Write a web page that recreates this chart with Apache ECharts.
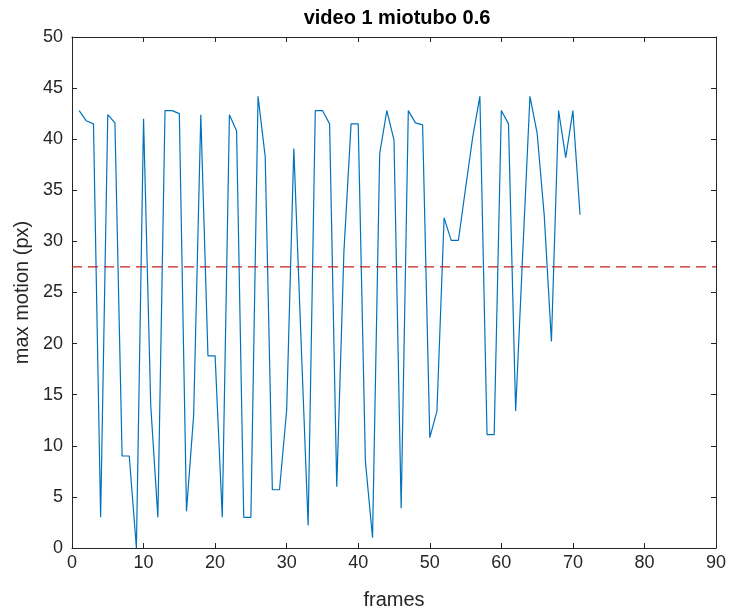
<!DOCTYPE html>
<html>
<head>
<meta charset="utf-8">
<script src="https://cdn.jsdelivr.net/npm/echarts@6/dist/echarts.min.js"></script>
<style>
  html, body { margin: 0; padding: 0; background: #ffffff; }
  #chart { width: 736px; height: 615px; }
</style>
</head>
<body>
<div id="chart"></div>
<script>
// Per-frame maximum motion (px) for video 1, miotubo 0.6
const frames = [];
for (let i = 1; i <= 71; i++) frames.push(i);
const maxMotion = [
  42.8, 41.8, 41.5, 3.0, 42.4, 41.6, 9.0, 9.0, 0.0, 42.0,
  14.0, 3.0, 42.8, 42.8, 42.5, 3.6, 13.0, 42.4, 18.8, 18.8,
  3.0, 42.4, 40.8, 3.0, 3.0, 44.2, 38.3, 5.7, 5.7, 13.5,
  39.1, 20.5, 2.2, 42.8, 42.8, 41.5, 6.0, 29.0, 41.5, 41.5,
  8.5, 1.0, 38.6, 42.8, 39.9, 3.9, 42.8, 41.6, 41.4, 10.8,
  13.4, 32.3, 30.1, 30.1, 35.2, 40.2, 44.2, 11.1, 11.1, 42.8,
  41.5, 13.4, 29.0, 44.2, 40.6, 32.5, 20.2, 42.8, 38.2, 42.8,
  32.6
];
// Threshold drawn as a dashed horizontal line
const threshold = 27.5;
const xTicks = [0, 10, 20, 30, 40, 50, 60, 70, 80, 90];
const yTicks = [0, 5, 10, 15, 20, 25, 30, 35, 40, 45, 50];

const axisColor = '#262626';
const font = 'Liberation Sans, Arial, Helvetica, sans-serif';

const chart = echarts.init(document.getElementById('chart'), null, { renderer: 'canvas' });

// Shared look for the four sides of the plot box
const boxAxis = (extra) => Object.assign({
  type: 'value',
  axisLine: { show: true, onZero: false, lineStyle: { color: axisColor, width: 1 } },
  axisTick: { show: true, inside: true, length: 5, lineStyle: { color: axisColor } },
  splitLine: { show: false },
}, extra);

chart.setOption({
  backgroundColor: '#ffffff',
  animation: false,
  title: {
    text: 'video 1 miotubo 0.6',
    left: 392, top: 3, textAlign: 'center',
    textStyle: { fontFamily: font, fontSize: 20, fontWeight: 'bold', color: '#000000' }
  },
  grid: { left: 72, right: 20, top: 37, bottom: 67, containLabel: false },
  xAxis: [
    boxAxis({
      position: 'bottom',
      min: xTicks[0], max: xTicks[xTicks.length - 1], interval: 10,
      name: 'frames', nameLocation: 'middle', nameGap: 42,
      nameTextStyle: { fontFamily: font, fontSize: 20, color: axisColor },
      axisLabel: { fontFamily: font, fontSize: 18, color: axisColor, margin: 6 }
    }),
    boxAxis({
      position: 'top',
      min: xTicks[0], max: xTicks[xTicks.length - 1], interval: 10,
      axisLabel: { show: false }
    })
  ],
  yAxis: [
    boxAxis({
      position: 'left',
      min: yTicks[0], max: yTicks[yTicks.length - 1], interval: 5,
      name: 'max motion (px)', nameLocation: 'middle', nameGap: 40,
      nameTextStyle: { fontFamily: font, fontSize: 20, color: axisColor },
      axisLabel: { fontFamily: font, fontSize: 18, color: axisColor, margin: 9 }
    }),
    boxAxis({
      position: 'right',
      min: yTicks[0], max: yTicks[yTicks.length - 1], interval: 5,
      axisLabel: { show: false }
    })
  ],
  series: [
    {
      type: 'line',
      data: frames.map((f, i) => [f, maxMotion[i]]),
      showSymbol: false,
      lineStyle: { color: '#0072BD', width: 1.2 },
      silent: true
    },
    {
      type: 'line',
      data: [[xTicks[0], threshold], [xTicks[xTicks.length - 1], threshold]],
      showSymbol: false,
      lineStyle: { color: '#c8201a', width: 1.3, type: [10, 6] },
      silent: true
    }
  ]
});
</script>
</body>
</html>
